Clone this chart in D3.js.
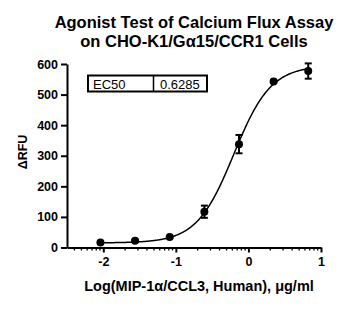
<!DOCTYPE html>
<html>
<head>
<meta charset="utf-8">
<script src="https://cdn.jsdelivr.net/npm/d3@7"></script>
<style>
  body { margin: 0; background: #fff; }
  svg { display: block; font-family: "Liberation Sans", Arial, sans-serif; }
</style>
</head>
<body>
<div id="chart"></div>
<script>
// log10 concentration (ug/ml), 3-fold dilutions
const logConc = [-2.039, -1.562, -1.085, -0.607, -0.130, 0.347, 0.824];
const rfuMean = [16, 22, 34, 117, 338, 543, 577];
const rfuErr  = [3, 3, 3, 20, 30, 5, 25];
// 4PL fit
const fitBottom = 15, fitTop = 595, ec50 = 0.6285, hill = 1.7;
const yTicks = [0, 100, 200, 300, 400, 500, 600];
const xTicks = [-2, -1, 0, 1];
const minorMult = [2, 3, 4, 5, 6, 7, 8, 9];
const titleLines = ["Agonist Test of Calcium Flux Assay", "on CHO-K1/G\u03b115/CCR1 Cells"];

const W = 363, H = 310;
const svg = d3.select("#chart").append("svg")
  .attr("width", W).attr("height", H);

const x = d3.scaleLinear().domain([-2.5, 1]).range([67, 321]);
const y = d3.scaleLinear().domain([0, 600]).range([247.5, 64]);

// title
svg.selectAll(".title").data(titleLines).enter().append("text")
  .attr("x", 194).attr("y", (d, i) => 28 + i * 19)
  .attr("text-anchor", "middle")
  .style("font-size", "16.5px").style("font-weight", "bold")
  .text(d => d);

// y axis
const yAxis = svg.append("g").attr("transform", "translate(67,0)")
  .call(d3.axisLeft(y).tickValues(yTicks).tickSize(6).tickPadding(3).tickSizeOuter(0));
// x axis
const xAxis = svg.append("g").attr("transform", "translate(0,247.5)")
  .call(d3.axisBottom(x).tickValues(xTicks).tickSize(5).tickPadding(5).tickSizeOuter(0)
    .tickFormat(d3.format("d")));

[yAxis, xAxis].forEach(g => {
  g.select(".domain").attr("stroke", "#000").attr("stroke-width", 2);
  g.selectAll(".tick line").attr("stroke", "#000").attr("stroke-width", 2);
  g.selectAll(".tick text").attr("fill", "#000")
    .style("font-size", "12.5px").style("font-weight", "bold")
    .style("font-family", "'Liberation Sans', Arial, sans-serif");
});
xAxis.selectAll(".tick text").text(d => d < 0 ? "-" + Math.abs(d) : d);

// minor log ticks
const minor = [];
for (let dec = -3; dec <= 0; dec++) {
  minorMult.forEach(m => {
    const v = dec + Math.log10(m);
    if (v > -2.5 && v < 1) minor.push(v);
  });
}
svg.append("g").selectAll("line").data(minor).enter().append("line")
  .attr("x1", d => x(d)).attr("x2", d => x(d))
  .attr("y1", 247.5).attr("y2", 250.5)
  .attr("stroke", "#000").attr("stroke-width", 1.3);

// axis labels
svg.append("text")
  .attr("transform", "translate(27,152) rotate(-90)")
  .attr("text-anchor", "middle")
  .style("font-size", "12.5px").style("font-weight", "bold")
  .text("\u0394RFU");
svg.append("text")
  .attr("x", 199).attr("y", 291)
  .attr("text-anchor", "middle")
  .style("font-size", "14.5px").style("font-weight", "bold")
  .text("Log(MIP-1\u03b1/CCL3, Human), \u03bcg/ml");

// fitted curve
const logEc50 = Math.log10(ec50);
const curveX = d3.range(logConc[0], logConc[logConc.length - 1] + 0.001, 0.01);
const line = d3.line()
  .x(d => x(d))
  .y(d => y(fitBottom + (fitTop - fitBottom) / (1 + Math.pow(10, (logEc50 - d) * hill))))
  .curve(d3.curveLinear);
svg.append("path").datum(curveX)
  .attr("d", line).attr("fill", "none")
  .attr("stroke", "#000").attr("stroke-width", 1.5);

// error bars
const pts = logConc.map((v, i) => ({ x: v, y: rfuMean[i], e: rfuErr[i] }));
const eb = svg.append("g").selectAll("g").data(pts).enter().append("g");
eb.append("line")
  .attr("x1", d => x(d.x)).attr("x2", d => x(d.x))
  .attr("y1", d => y(d.y - d.e)).attr("y2", d => y(d.y + d.e))
  .attr("stroke", "#000").attr("stroke-width", 2);
[-1, 1].forEach(s => {
  eb.append("line")
    .attr("x1", d => x(d.x) - 3.5).attr("x2", d => x(d.x) + 3.5)
    .attr("y1", d => y(d.y + s * d.e)).attr("y2", d => y(d.y + s * d.e))
    .attr("stroke", "#000").attr("stroke-width", 2);
});

// points
svg.append("g").selectAll("circle").data(pts).enter().append("circle")
  .attr("cx", d => x(d.x)).attr("cy", d => y(d.y)).attr("r", 4)
  .attr("fill", "#000");

// EC50 table
const tbl = svg.append("g");
tbl.append("rect").attr("x", 88).attr("y", 75.5).attr("width", 119).attr("height", 16)
  .attr("fill", "#fff").attr("stroke", "#000").attr("stroke-width", 2);
tbl.append("line").attr("x1", 153.5).attr("x2", 153.5).attr("y1", 75.5).attr("y2", 91.5)
  .attr("stroke", "#000").attr("stroke-width", 1.5);
tbl.append("text").attr("x", 93).attr("y", 88.5).style("font-size", "13px").text("EC50");
tbl.append("text").attr("x", 160).attr("y", 88.5).style("font-size", "13px").text(ec50);
</script>
</body>
</html>
